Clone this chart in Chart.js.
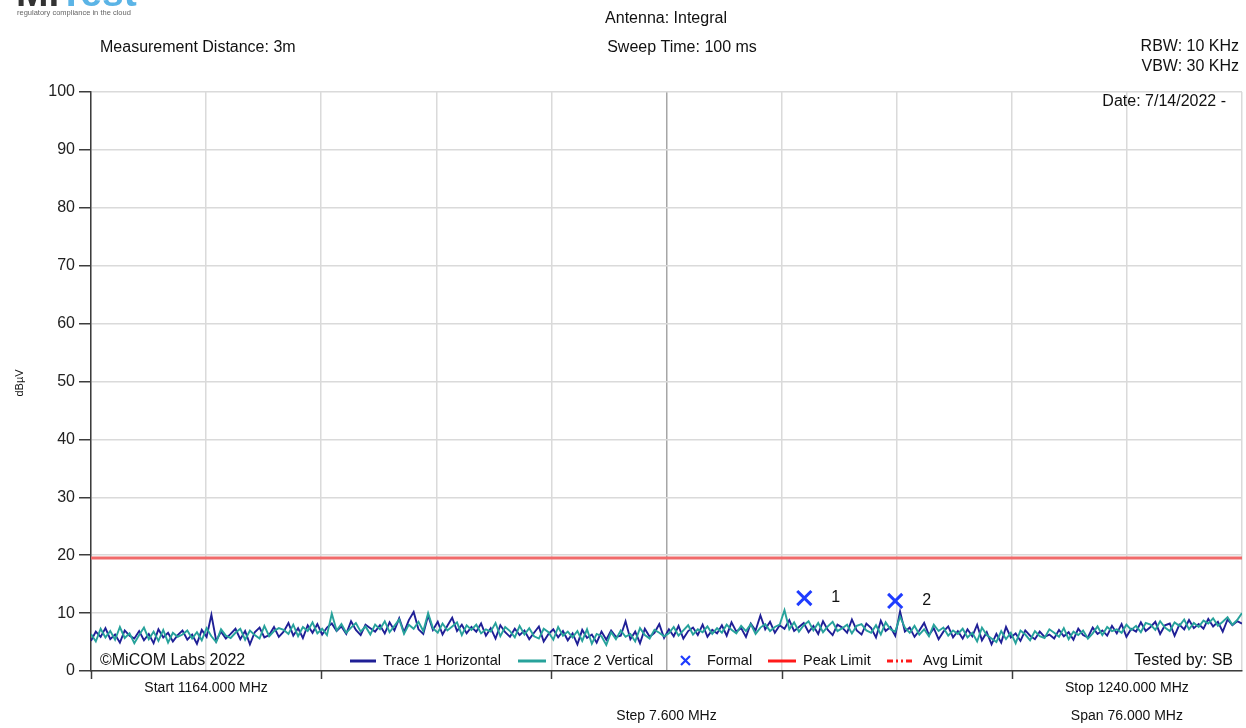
<!DOCTYPE html>
<html>
<head>
<meta charset="utf-8">
<script src="https://cdn.jsdelivr.net/npm/chart.js@4.4.1/dist/chart.umd.min.js"></script>
<style>
  html, body { margin: 0; padding: 0; background: #fff; }
</style>
</head>
<body>
<canvas id="chart" width="1246" height="728"></canvas>
<script>
// sweep settings
const startFreq = 1164;
const stopFreq = 1240;
const stepFreq = 7.6;
const limitLevel = 19.5;

// trace readings (dBuV), evenly spaced over the sweep
const trace1H = [
  5.2, 6.8, 5.9, 7.4, 5.5, 6.3, 4.9, 7.0, 6.1, 5.6,
  6.9, 5.3, 6.4, 4.8, 7.2, 5.8, 6.6, 5.1, 6.2, 7.0,
  5.4, 6.3, 4.7, 7.1, 5.9, 9.7, 5.2, 6.8, 5.6, 6.4,
  7.3, 5.5, 6.9, 4.6, 6.7, 7.5, 5.8, 6.2, 7.6, 5.9,
  6.8, 8.3, 6.1, 7.4, 5.7, 7.9, 6.6, 8.1, 6.3, 7.5,
  8.2, 6.9, 7.7, 6.4, 8.6, 7.1, 6.2, 8.0, 7.4, 6.8,
  7.9, 6.5, 8.4, 7.0, 9.1, 6.7, 8.8, 10.2, 7.2, 6.4,
  9.6, 7.1, 8.5, 6.3, 7.8, 9.2, 6.9, 8.0, 6.5, 7.6,
  6.8, 8.2, 6.1, 7.4, 5.6, 7.9, 6.7, 5.9, 7.3, 6.2,
  7.0, 5.5, 6.6, 7.7, 5.1, 6.4, 7.2, 5.8, 6.9, 5.3,
  6.5, 4.6, 7.1, 5.7, 6.3, 4.9, 6.8, 5.4, 7.0, 5.9,
  6.1, 8.6, 5.5, 6.8, 4.8, 7.3, 5.9, 6.6, 8.1, 5.7,
  7.2, 6.0, 7.8, 5.6, 6.9, 7.5, 6.2, 8.0, 5.9, 7.1,
  6.5, 7.9, 6.1, 8.4, 6.8, 7.4, 5.9, 8.2, 7.0, 9.6,
  7.2, 8.5, 6.6, 7.9, 7.3, 8.8, 6.9, 7.6, 8.3, 6.7,
  7.8, 6.4, 8.6, 7.1, 6.2, 8.0, 7.5, 6.6, 8.9, 7.0,
  6.3, 8.2, 7.4, 5.8, 8.7, 6.9, 7.6, 6.1, 10.3, 6.8,
  7.5, 5.9, 7.0, 8.3, 6.2, 7.4, 5.5, 6.8, 7.7, 5.8,
  6.9, 5.6, 7.2, 6.0, 8.0, 5.3, 6.7, 4.6, 6.4, 4.9,
  7.6, 5.8, 6.5, 5.2, 7.0, 6.1, 5.5, 6.8, 5.9, 6.3,
  5.6, 7.1, 6.0, 6.7, 5.4, 7.3, 6.2, 5.8, 7.5, 6.4,
  7.0, 6.1, 7.8, 6.5, 8.1, 5.9, 7.3, 6.8, 8.4, 6.9,
  7.6, 8.5, 6.4, 7.9, 8.2, 6.1, 8.0, 7.2, 8.8, 7.4,
  8.1, 7.3, 9.0, 7.7, 8.5, 6.8, 8.9, 7.9, 8.6, 8.2
];

const trace2V = [
  6.4, 5.1, 7.3, 5.8, 6.9, 5.4, 7.6, 5.7, 6.5, 4.8,
  6.2, 7.5, 5.5, 6.8, 5.2, 7.1, 4.9, 6.6, 5.9, 6.3,
  7.0, 5.6, 6.7, 5.3, 7.4, 6.0, 5.0, 7.2, 6.1, 5.7,
  6.6, 7.3, 5.4, 7.0, 6.2, 5.6, 7.8, 6.0, 6.9, 7.4,
  7.1, 6.4, 8.0, 6.0, 7.6, 6.9, 8.4, 6.5, 7.3, 6.2,
  9.9, 7.0, 8.1, 6.6, 7.5, 8.3, 6.8, 7.7, 6.3, 8.0,
  7.2, 8.6, 6.7, 7.8, 8.9, 6.4, 8.0, 7.3, 8.5, 6.9,
  10.0, 7.4, 6.6, 8.2, 7.0, 7.7, 8.4, 6.2, 7.9, 7.1,
  8.0, 6.5, 7.2, 6.8, 8.3, 6.0, 7.6, 6.9, 5.8, 7.8,
  6.3, 7.4, 6.0, 5.6, 7.3, 6.7, 5.4, 7.6, 6.1, 6.8,
  5.8, 6.9, 5.2, 7.2, 4.7, 6.4, 6.0, 4.5, 6.7, 5.5,
  7.0, 5.9, 6.4, 5.1, 7.4, 6.2, 5.6, 7.1, 6.6, 6.0,
  6.5, 7.6, 6.1, 7.0, 7.9, 6.3, 7.2, 6.7, 7.7, 6.4,
  7.4, 6.6, 8.0, 7.1, 6.5, 7.8, 6.9, 8.1, 6.4, 7.5,
  8.1, 6.9, 7.6, 8.0, 10.5, 7.2, 8.4, 6.8, 7.9, 8.6,
  7.0, 8.3, 6.7, 7.7, 8.5, 6.9, 7.4, 8.0, 6.5, 7.8,
  8.1, 7.0, 6.6, 7.9, 6.3, 8.4, 7.2, 6.8, 9.4, 7.5,
  6.6, 7.8, 6.3, 7.2, 6.0, 8.0, 6.9, 7.5, 6.1, 7.0,
  6.4, 7.3, 5.8, 6.6, 5.1, 7.5, 6.2, 5.6, 5.0, 6.9,
  5.5, 6.6, 4.8, 7.0, 6.3, 5.3, 6.9, 6.0, 5.7, 7.2,
  6.6, 5.9, 7.4, 5.5, 6.8, 6.2, 7.0, 5.6, 6.5, 7.7,
  6.2, 7.6, 6.9, 7.2, 6.6, 8.0, 7.1, 7.8, 6.7, 8.3,
  8.0, 7.1, 8.6, 7.5, 6.9, 8.4, 7.8, 8.9, 7.2, 8.3,
  7.6, 8.7, 8.2, 9.1, 7.8, 8.5, 9.3, 8.0, 8.8, 10.0
];

// formal markers
const markerFreqs = [1211.1, 1217.1];
const markerLevels = [12.6, 12.1];
const markerNames = ['1', '2'];

// axis text
const yTicks = [0, 10, 20, 30, 40, 50, 60, 70, 80, 90, 100];
const xLabelsRow1 = ['Start 1164.000 MHz', 'Stop 1240.000 MHz'];
const xLabelsRow2 = ['Step 7.600 MHz', 'Span 76.000 MHz'];

const gridFreqs = [];
for (let i = 0; i <= 10; i++) gridFreqs.push(startFreq + i * stepFreq);

function toPoints(values) {
  const n = values.length;
  return values.map((v, i) => ({ x: startFreq + i * (stopFreq - startFreq) / (n - 1), y: v }));
}

const FONT = 'Arial, "Liberation Sans", sans-serif';
const NAVY = '#1f1f96';
const TEAL = '#27a29b';
const LIMIT_RED = '#f06a6a';
const MARK_BLUE = '#1f3cff';

const textPlugin = {
  id: 'textPlugin',
  beforeDraw(chart) {
    const ctx = chart.ctx;
    ctx.save();
    ctx.fillStyle = '#fff';
    ctx.fillRect(0, 0, chart.width, chart.height);
    ctx.restore();
  },
  afterDraw(chart) {
    const ctx = chart.ctx;
    const area = chart.chartArea;
    const xs = chart.scales.x;
    ctx.save();

    // logo (cropped at the top)
    ctx.textBaseline = 'alphabetic';
    ctx.textAlign = 'left';
    ctx.font = 'bold 39px ' + FONT;
    ctx.fillStyle = '#333';
    ctx.fillText('Mi', 16, 6);
    const miW = ctx.measureText('Mi').width;
    ctx.fillStyle = '#5bb4e6';
    ctx.fillText('Test', 16 + miW, 6);
    ctx.font = '7.5px ' + FONT;
    ctx.fillStyle = '#666';
    ctx.fillText('regulatory compliance in the cloud', 17, 15);

    // header
    ctx.fillStyle = '#111';
    ctx.font = '16px ' + FONT;
    ctx.textBaseline = 'middle';
    ctx.textAlign = 'center';
    ctx.fillText('Antenna: Integral', 666, 19);
    ctx.fillText('Sweep Time: 100 ms', 682, 48);
    ctx.textAlign = 'left';
    ctx.fillText('Measurement Distance: 3m', 100, 48);
    ctx.textAlign = 'right';
    ctx.fillText('RBW: 10 KHz', 1239, 47);
    ctx.fillText('VBW: 30 KHz', 1239, 67);
    ctx.fillText('Date: 7/14/2022 -', 1226, 102);
    ctx.fillText('Tested by: SB', 1233, 661);
    ctx.textAlign = 'left';
    ctx.fillText('\u00A9MiCOM Labs 2022', 100, 661);

    // y axis title
    ctx.save();
    ctx.translate(20, 383);
    ctx.rotate(-Math.PI / 2);
    ctx.textAlign = 'center';
    ctx.font = '11px ' + FONT;
    ctx.fillText('dB\u00B5V', 0, 0);
    ctx.restore();

    // x tick marks below the axis, every other division
    ctx.strokeStyle = '#3c3c3c';
    ctx.lineWidth = 1.5;
    for (let i = 0; i < 10; i += 2) {
      const px = Math.round(xs.getPixelForValue(gridFreqs[i])) + 0.5;
      ctx.beginPath();
      ctx.moveTo(px, area.bottom);
      ctx.lineTo(px, area.bottom + 8);
      ctx.stroke();
    }

    // x labels
    ctx.font = '14px ' + FONT;
    ctx.fillStyle = '#111';
    ctx.textAlign = 'center';
    ctx.fillText(xLabelsRow1[0], xs.getPixelForValue(gridFreqs[1]), 688);
    ctx.fillText(xLabelsRow1[1], xs.getPixelForValue(gridFreqs[9]), 688);
    ctx.fillText(xLabelsRow2[0], xs.getPixelForValue(gridFreqs[5]), 716);
    ctx.fillText(xLabelsRow2[1], xs.getPixelForValue(gridFreqs[9]), 716);

    // marker numbers
    const mMeta = chart.getDatasetMeta(0);
    ctx.font = '16px ' + FONT;
    ctx.textAlign = 'left';
    mMeta.data.forEach((pt, i) => {
      ctx.fillText(markerNames[i], pt.x + 27, pt.y);
    });

    // legend
    const ly = 661;
    ctx.font = '14.5px ' + FONT;
    ctx.lineWidth = 3;
    ctx.strokeStyle = NAVY;
    ctx.beginPath(); ctx.moveTo(350, ly); ctx.lineTo(376, ly); ctx.stroke();
    ctx.fillText('Trace 1 Horizontal', 383, ly);
    ctx.strokeStyle = TEAL;
    ctx.beginPath(); ctx.moveTo(518, ly); ctx.lineTo(546, ly); ctx.stroke();
    ctx.fillText('Trace 2 Vertical', 553, ly);
    ctx.strokeStyle = MARK_BLUE;
    ctx.lineWidth = 2.2;
    ctx.beginPath();
    ctx.moveTo(681, ly - 5); ctx.lineTo(690, ly + 4);
    ctx.moveTo(690, ly - 5); ctx.lineTo(681, ly + 4);
    ctx.stroke();
    ctx.fillText('Formal', 707, ly);
    ctx.lineWidth = 3;
    ctx.strokeStyle = '#ff1a1a';
    ctx.beginPath(); ctx.moveTo(768, ly); ctx.lineTo(796, ly); ctx.stroke();
    ctx.fillText('Peak Limit', 803, ly);
    ctx.setLineDash([6, 3, 2, 3, 2, 3]);
    ctx.beginPath(); ctx.moveTo(887, ly); ctx.lineTo(915, ly); ctx.stroke();
    ctx.setLineDash([]);
    ctx.fillText('Avg Limit', 923, ly);

    ctx.restore();
  }
};

new Chart(document.getElementById('chart'), {
  type: 'line',
  data: {
    datasets: [
      {
        label: 'Formal',
        data: markerFreqs.map((f, i) => ({ x: f, y: markerLevels[i] })),
        showLine: false,
        pointStyle: 'crossRot',
        pointRadius: 10,
        borderWidth: 3,
        borderColor: MARK_BLUE,
        order: 0
      },
      {
        label: 'Trace 2 Vertical',
        data: toPoints(trace2V),
        borderColor: TEAL,
        borderWidth: 1.9,
        pointRadius: 0,
        tension: 0,
        order: 1
      },
      {
        label: 'Trace 1 Horizontal',
        data: toPoints(trace1H),
        borderColor: NAVY,
        borderWidth: 1.9,
        pointRadius: 0,
        tension: 0,
        order: 2
      },
      {
        label: 'Peak Limit',
        data: [{ x: startFreq, y: limitLevel }, { x: stopFreq, y: limitLevel }],
        borderColor: LIMIT_RED,
        borderWidth: 3,
        pointRadius: 0,
        order: 3
      }
    ]
  },
  options: {
    responsive: false,
    animation: false,
    devicePixelRatio: 1,
    layout: { autoPadding: false, padding: { left: 0, right: 4, top: 92, bottom: 0 } },
    plugins: { legend: { display: false }, tooltip: { enabled: false } },
    scales: {
      x: {
        type: 'linear',
        min: startFreq,
        max: stopFreq,
        afterBuildTicks: s => { s.ticks = gridFreqs.map(v => ({ value: v })); },
        afterFit: s => { s.height = 57; },
        ticks: { display: false },
        grid: {
          color: c => (c.index === 5 ? '#a6a6a6' : '#dadada'),
          lineWidth: 1.5,
          drawTicks: false
        },
        border: { color: '#3c3c3c', width: 1.5 }
      },
      y: {
        min: 0,
        max: 100,
        afterBuildTicks: s => { s.ticks = yTicks.map(v => ({ value: v })); },
        afterFit: s => { s.width = 91; },
        ticks: { font: { family: FONT, size: 16 }, color: '#222', padding: 4 },
        grid: { color: '#dadada', lineWidth: 1.5, tickLength: 12, tickColor: '#3c3c3c' },
        border: { color: '#3c3c3c', width: 1.5 }
      }
    }
  },
  plugins: [textPlugin]
});
</script>
</body>
</html>
